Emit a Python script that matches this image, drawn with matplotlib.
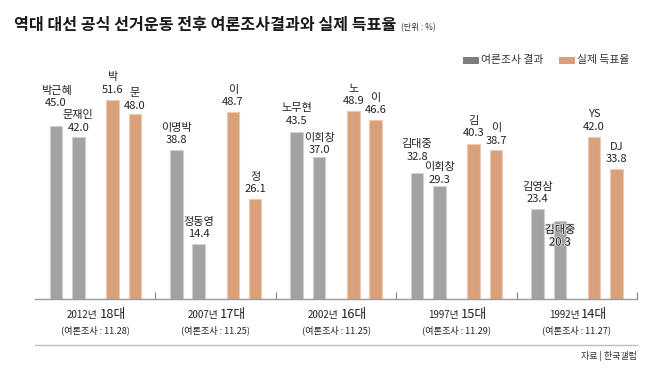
import matplotlib
matplotlib.use('Agg')
import matplotlib.pyplot as plt
from matplotlib.patches import Rectangle
from matplotlib.lines import Line2D
import matplotlib.patheffects as pe

plt.rcParams['font.family'] = ['Noto Sans CJK KR', 'DejaVu Sans']

# ---------------- data ----------------
years = ['2012년', '2007년', '2002년', '1997년', '1992년']
terms = ['18대', '17대', '16대', '15대', '14대']
poll_dates = ['11.28', '11.25', '11.25', '11.29', '11.27']
poll_names = [['박근혜', '문재인'], ['이명박', '정동영'], ['노무현', '이회창'],
              ['김대중', '이회창'], ['김영삼', '김대중']]
poll_values = [[45.0, 42.0], [38.8, 14.4], [43.5, 37.0], [32.8, 29.3], [23.4, 20.3]]
vote_names = [['박', '문'], ['이', '정'], ['노', '이'], ['김', '이'], ['YS', 'DJ']]
vote_values = [[51.6, 48.0], [48.7, 26.1], [48.9, 46.6], [40.3, 38.7], [42.0, 33.8]]
legend_labels = ['여론조사 결과', '실제 득표율']

# ---------------- style ----------------
W, H = 650, 378
GRAY, GRAY_EDGE, GRAY_LEG = '#a2a2a2', '#cfcfcf', '#7d7d7d'
ORANGE, ORANGE_EDGE = '#d8a17c', '#efc9ad'
TXT = '#222222'
PX_PER_UNIT = 3.85
offs = [0.174, 0.360, 0.644, 0.829]
bw = 0.104
# extra vertical label shifts (px) for crowded labels
poll_extra = [[13, 0], [0, 0], [1.5, -3], [6.5, -3], [0, -31.2]]
vote_extra = [[1, -1], [0, 0], [0, 0], [1, 0], [1, 0]]

fig = plt.figure(figsize=(6.5, 3.78), dpi=100)


def fx(px):
    return px / W


def fy(py):
    return 1 - py / H


ax = fig.add_axes([fx(35), fy(299), 602 / W, 239 / H])
ax.set_xlim(0, 5)
ax.set_ylim(0, 239 / PX_PER_UNIT)
for s in ['left', 'top', 'right']:
    ax.spines[s].set_visible(False)
ax.spines['bottom'].set_color('#9a9a9a')
ax.spines['bottom'].set_linewidth(1.0)
ax.set_yticks([])
ax.set_xticks([1, 2, 3, 4, 5])
ax.set_xticklabels([])
ax.tick_params(axis='x', direction='in', length=5, color='#8a8a8a', width=0.9)

P = 0.72  # px -> points


def label(x, v, name, val, extra):
    vc = 9.5 + extra
    kw = dict(xycoords='data', textcoords='offset points', ha='center', va='center',
              fontsize=8, color=TXT)
    t1 = ax.annotate(f'{val:.1f}', (x, v), xytext=(0, vc * P), **kw)
    t2 = ax.annotate(name, (x, v), xytext=(0, (vc + 12.5) * P), **kw)
    if extra < -10:
        for t in (t1, t2):
            t.set_path_effects([pe.withStroke(linewidth=1.2, foreground='#dcdcdc')])


for k in range(5):
    for j in range(2):
        x = k + offs[j]
        v = poll_values[k][j]
        ax.bar(x, v, width=bw, color=GRAY, edgecolor=GRAY_EDGE, linewidth=0.8)
        label(x, v, poll_names[k][j], v, poll_extra[k][j])
    for j in range(2):
        x = k + offs[j + 2]
        v = vote_values[k][j]
        ax.bar(x, v, width=bw, color=ORANGE, edgecolor=ORANGE_EDGE, linewidth=0.8)
        label(x, v, vote_names[k][j], v, vote_extra[k][j])
    # group labels
    xc = k + 0.5
    ax.annotate(years[k], (xc, 0), xycoords=('data', 'axes fraction'),
                xytext=(2.5 * P, -19 * P), textcoords='offset points',
                ha='right', va='baseline', fontsize=7, color=TXT)
    ax.annotate(terms[k], (xc, 0), xycoords=('data', 'axes fraction'),
                xytext=(4.5 * P, -19 * P), textcoords='offset points',
                ha='left', va='baseline', fontsize=9.3, color=TXT)
    ax.annotate(f'(여론조사 : {poll_dates[k]})', (xc, 0), xycoords=('data', 'axes fraction'),
                xytext=(0, -31 * P), textcoords='offset points',
                ha='center', va='center', fontsize=6.6, color=TXT)

# title
title = fig.text(fx(14), fy(30), '역대 대선 공식 선거운동 전후 여론조사결과와 실제 득표율',
                 fontsize=11.6, fontweight='bold', color='#1a1a1a', ha='left', va='baseline')
fig.canvas.draw()
bb = title.get_window_extent(fig.canvas.get_renderer())
fig.text(bb.x1 / W + fx(5), fy(30), '(단위 : %)', fontsize=6, color='#333333',
         ha='left', va='baseline')

# legend
leg_x = [463, 559]
leg_c = [GRAY_LEG, ORANGE]
for lx, lc, lt in zip(leg_x, leg_c, legend_labels):
    fig.add_artist(Rectangle((fx(lx), fy(63.5)), 16 / W, 6 / H, transform=fig.transFigure,
                             facecolor=lc, edgecolor='none'))
    fig.text(fx(lx + 18), fy(60.5), lt, fontsize=7.8, color='#333333', ha='left', va='center')

# bottom rule and source
fig.add_artist(Line2D([fx(35), fx(637)], [fy(345), fy(345)], transform=fig.transFigure,
                      color='#bdbdbd', lw=1.0))
fig.text(fx(637), fy(356), '자료 | 한국갤럽', fontsize=6.5, color='#333333',
         ha='right', va='center')

fig.savefig('out.png', dpi=100)
